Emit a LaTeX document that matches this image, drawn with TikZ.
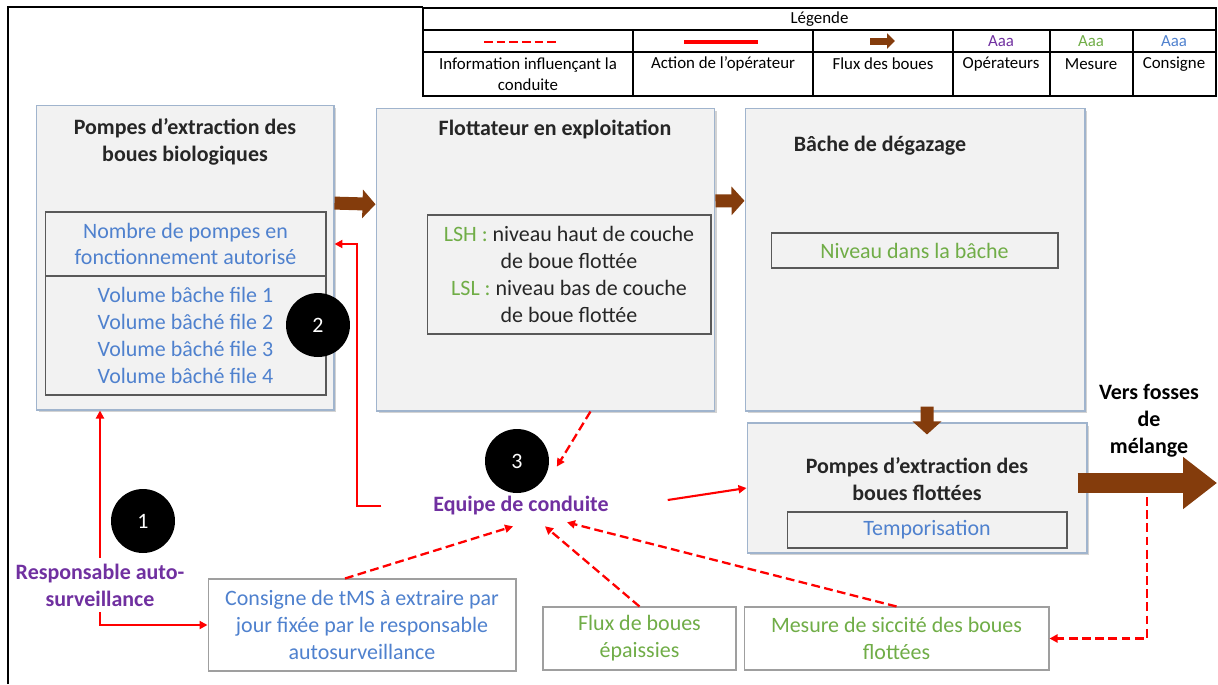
\documentclass[tikz,border=0pt]{standalone}
\usepackage{fontspec}
\setmainfont{Carlito}
\usetikzlibrary{arrows.meta,shadows}

\definecolor{flowbrown}{RGB}{132,60,12}
\definecolor{consblue}{RGB}{79,129,206}
\definecolor{mesgreen}{RGB}{112,173,71}
\definecolor{opviolet}{RGB}{112,48,160}
\definecolor{boxfill}{RGB}{242,242,242}
\definecolor{boxline}{RGB}{160,180,205}
\definecolor{inline}{RGB}{89,89,89}
\definecolor{bodytext}{RGB}{38,38,38}

\newcommand{\bodyfont}{\fontsize{12.5}{15.3}\selectfont}
\newcommand{\lgfont}{\fontsize{9.6}{12}\selectfont}

\begin{document}
\begin{tikzpicture}[x=0.02cm, y=-0.02cm,
  box/.style={draw=boxline, fill=boxfill, line width=0.6pt,
    drop shadow={shadow xshift=0.05cm, shadow yshift=-0.05cm, opacity=0.35}},
  inbox/.style={draw=inline, line width=0.6pt, inner sep=0pt, align=center, font=\bodyfont},
  plainbox/.style={draw=gray!75, fill=white, line width=0.6pt, inner sep=0pt, align=center, font=\bodyfont},
  title/.style={font=\bodyfont\bfseries, align=center, text=bodytext},
  badge/.style={circle, fill=black, minimum size=1.28cm, inner sep=0pt, text=white, font=\bodyfont},
  actor/.style={font=\bodyfont\bfseries, align=center, text=opviolet},
  lgtext/.style={font=\lgfont, align=center},
  flow/.style={flowbrown, line width=0.26cm, -{Triangle[length=0.26cm, width=0.56cm]}},
  action/.style={red, line width=1.2pt, -{Triangle[length=0.16cm, width=0.16cm]}},
  info/.style={action, line width=1.3pt, dash pattern=on 5pt off 2.5pt}]
  \useasboundingbox (0,0) rectangle (1218,684);

  % frame
  \draw[line width=1.2pt] (8,684) -- (8,7) -- (423,7);

  % legend
  \draw[line width=0.6pt] (423,8) rectangle (1216,96);
  \draw[line width=0.6pt] (423,30) -- (1216,30);
  \draw[line width=0.6pt] (423,52) -- (1216,52);
  \foreach \xc in {633,813,953,1050,1133}
    \draw[line width=0.6pt] (\xc,30) -- (\xc,96);
  \node[lgtext] (lgTitle) at (819.5,19) {Légende};
  \draw[red, line width=1.6pt, dash pattern=on 5pt off 2.2pt] (484,42) -- (556,42);
  \draw[red, line width=1.8pt] (684,42) -- (758,42);
  \draw[flowbrown, line width=0.14cm, -{Triangle[length=0.16cm, width=0.3cm]}] (870,41) -- (895,41);
  \node[lgtext, text=opviolet] (lgOp) at (1001,41) {Aaa};
  \node[lgtext, text=mesgreen] (lgMes) at (1091,41) {Aaa};
  \node[lgtext, text=consblue] (lgCons) at (1174,41) {Aaa};
  \node[lgtext] (lgInfo) at (528,74) {Information influençant la\\conduite};
  \node[lgtext] (lgAction) at (723,64) {Action de l’opérateur};
  \node[lgtext] (lgFlux) at (883,64) {Flux des boues};
  \node[lgtext] (lgOpe) at (1001,64) {Opérateurs};
  \node[lgtext] (lgMesure) at (1091,64) {Mesure};
  \node[lgtext] (lgConsigne) at (1174,64) {Consigne};

  % process boxes
  \node[box, minimum width=5.96cm, minimum height=6.10cm] (boxA) at (185,257.5) {};
  \node[box, minimum width=6.78cm, minimum height=6.06cm] (boxB) at (545.5,259.5) {};
  \node[box, minimum width=6.80cm, minimum height=6.06cm] (boxC) at (915,259.5) {};
  \node[box, minimum width=6.80cm, minimum height=2.60cm] (boxD) at (917,488) {};

  \node[title] (titleA) at (185,141.5) {Pompes d’extraction des\\boues biologiques};
  \node[title] (titleB) at (555,129) {Flottateur en exploitation};
  \node[title] (titleC) at (880,146) {Bâche de dégazage};
  \node[title] (titleD) at (917,479.5) {Pompes d’extraction des\\boues flottées};

  \node[inbox, text=consblue, minimum width=5.62cm, minimum height=1.28cm] (innerAtop) at (185.5,244)
    {Nombre de pompes en\\fonctionnement autorisé};
  \node[inbox, text=consblue, minimum width=5.62cm, minimum height=2.38cm] (innerAbot) at (185.5,335.5)
    {Volume bâche file 1\\Volume bâché file 2\\Volume bâché file 3\\Volume bâché file 4};
  \node[inbox, text=bodytext, minimum width=5.68cm, minimum height=2.38cm] (innerB) at (569,274.5)
    {\textcolor{mesgreen}{LSH :} niveau haut de couche\\de boue flottée\\
     \textcolor{mesgreen}{LSL :} niveau bas de couche\\de boue flottée};
  \node[inbox, text=mesgreen, minimum width=5.74cm, minimum height=0.70cm] (innerC) at (914.5,250.5)
    {Niveau dans la bâche};
  \node[inbox, text=consblue, minimum width=5.60cm, minimum height=0.72cm] (innerD) at (927,530)
    {Temporisation};

  % information boxes
  \node[plainbox, text=consblue, minimum width=6.16cm, minimum height=1.84cm] (consigne) at (362,625)
    {Consigne de tMS à extraire par\\jour fixée par le responsable\\autosurveillance};
  \node[plainbox, text=mesgreen, minimum width=3.86cm, minimum height=1.26cm] (flux) at (639.5,638.5)
    {Flux de boues\\épaissies};
  \node[plainbox, text=mesgreen, minimum width=6.10cm, minimum height=1.26cm] (mesure) at (896.5,638.5)
    {Mesure de siccité des boues\\flottées};

  % actors
  \node[actor, minimum height=0.8cm] (equipe) at (521,506) {Equipe de conduite};
  \node[actor] (resp) at (100,585) {Responsable auto-\\surveillance};
  \node[title, text=black] (versFosses) at (1149,421) {Vers fosses\\de\\mélange};

  \node[badge] (c1) at (143,521) {1};
  \node[badge] (c2) at (318,325) {2};
  \node[badge] (c3) at (517,461) {3};

  % sludge flow
  \draw[flow] (boxA.20) -- (boxB.162);
  \draw[flow] (boxB.19) -- (boxC.161);
  \draw[flow] ([xshift=0.24cm, yshift=0.1cm]boxC.south) -- ([xshift=0.2cm, yshift=-0.24cm]boxD.north);
  \coordinate (fosse) at (1217,483);
  \draw[flowbrown, line width=0.4cm, -{Triangle[length=0.68cm, width=1.0cm]}]
    ([xshift=-0.2cm]boxD.east |- fosse) -- (fosse);

  % operator actions
  \coordinate (bendA) at (357,506);
  \draw[action] (resp.north) -- (resp.north |- boxA.south);
  \draw[action] (resp.south) |- (consigne.west);
  \draw[action] (equipe.west) ++(-46,0) -- (bendA) |- (boxA.east |- innerAtop.east);
  \draw[action] (equipe.east) ++(53,-6) -- (boxD.west);

  % information
  \coordinate (drop) at (1147,497);
  \draw[info] ([xshift=0.9cm]boxB.south) -- ([xshift=0.16cm]c3.-10);
  \draw[info] ([xshift=-0.34cm]consigne.north) -- ([xshift=-0.16cm]equipe.south);
  \draw[info] (flux.north) -- ([xshift=0.48cm]equipe.south);
  \draw[info] (mesure.north) -- ([xshift=0.92cm, yshift=0.08cm]equipe.south);
  \draw[info] (drop) |- (mesure.east);
\end{tikzpicture}
\end{document}
